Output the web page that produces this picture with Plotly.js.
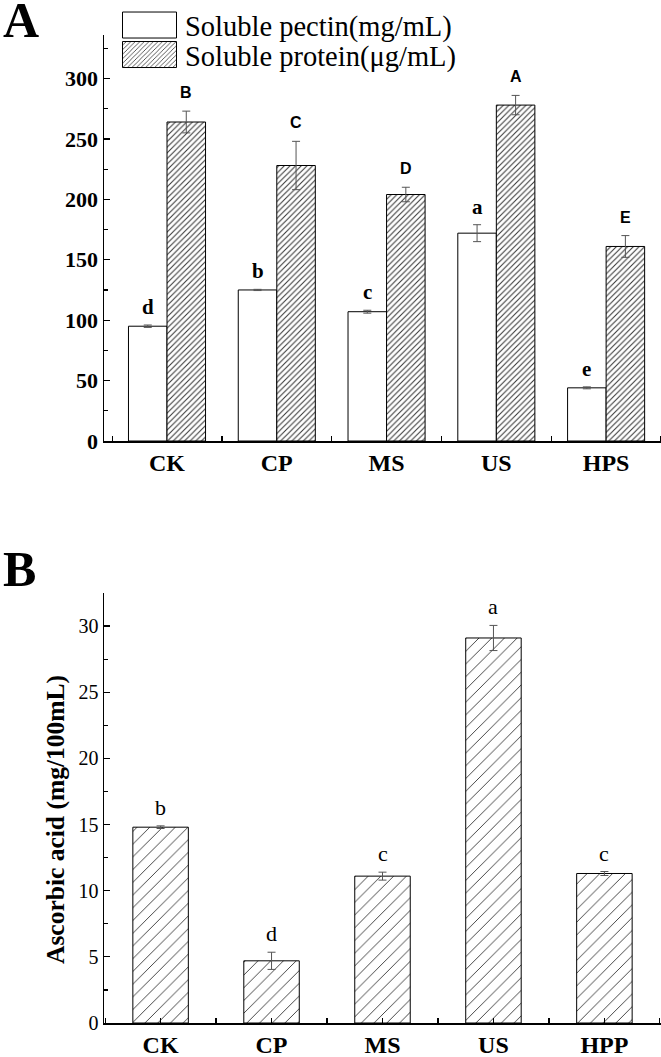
<!DOCTYPE html>
<html>
<head>
<meta charset="utf-8">
<script src="https://cdn.plot.ly/plotly-3.0.1.min.js"></script>
<style>html,body{margin:0;padding:0;background:#fff;}</style>
</head>
<body>
<div id="chart" style="width:661px;height:1057px;"></div>
<script>
// ---- Data (panel A) ----
var categoriesA = ['CK', 'CP', 'MS', 'US', 'HPS'];
var pectin = [95, 125, 107, 172, 44];
var pectinErr = [1, 0.5, 1.2, 7, 0.8];
var protein = [264, 228, 204, 278, 161];
var proteinErr = [9, 20, 6, 8, 9];
var lettersPectin = ['d', 'b', 'c', 'a', 'e'];
var lettersProtein = ['B', 'C', 'D', 'A', 'E'];
var seriesNames = ['Soluble pectin(mg/mL)', 'Soluble protein(\u03bcg/mL)'];

// ---- Data (panel B) ----
var categoriesB = ['CK', 'CP', 'MS', 'US', 'HPP'];
var ascorbic = [14.8, 4.7, 11.1, 29.1, 11.3];
var ascorbicErr = [0.1, 0.65, 0.3, 0.95, 0.15];
var lettersB = ['b', 'd', 'c', 'a', 'c'];
var yTitleB = 'Ascorbic acid (mg/100mL)';

var idxA = categoriesA.map(function (_, i) { return i; });
var idxB = categoriesB.map(function (_, i) { return i; });

var serif = 'Liberation Serif, Times New Roman, serif';
var narrow = 'Liberation Sans Narrow, Arial Narrow, Liberation Sans, sans-serif';

// layout geometry
var W = 661, H = 1057, ML = 104, MR = 0, MT = 30, MB = 34;
var PW = W - ML - MR, PH = H - MT - MB;
function px2x(px) { return (px - ML) / PW; }
function px2y(py) { return (H - MB - py) / PH; }

var errStyle = { type: 'data', visible: true, color: '#555', thickness: 1, width: 4 };

var traces = [
  {
    type: 'bar', name: seriesNames[0], x: idxA, y: pectin, legend: 'legend',
    width: 0.351, offset: -0.351, xaxis: 'x', yaxis: 'y',
    marker: { color: '#ffffff', line: { color: '#000', width: 1 } },
    error_y: Object.assign({ array: pectinErr }, errStyle)
  },
  {
    type: 'bar', name: seriesNames[1], x: idxA, y: protein, legend: 'legend2',
    width: 0.351, offset: 0, xaxis: 'x', yaxis: 'y',
    marker: {
      color: '#ffffff', line: { color: '#000', width: 1 },
      pattern: { shape: '/', size: 4, solidity: 0.25, fgcolor: '#333', bgcolor: '#ffffff', fgopacity: 1 }
    },
    error_y: Object.assign({ array: proteinErr }, errStyle)
  },
  {
    type: 'bar', name: 'Ascorbic acid', x: idxB, y: ascorbic, showlegend: false,
    width: 0.5, offset: -0.25, xaxis: 'x2', yaxis: 'y2',
    marker: {
      color: '#ffffff', line: { color: '#000', width: 1 },
      pattern: { shape: '/', size: 9, solidity: 0.1, fgcolor: '#333', bgcolor: '#ffffff', fgopacity: 1 }
    },
    error_y: Object.assign({ array: ascorbicErr }, errStyle)
  }
];

var annotations = [];
idxA.forEach(function (i) {
  annotations.push({
    x: i - 0.1755, y: pectin[i] + pectinErr[i], xref: 'x', yref: 'y',
    text: lettersPectin[i], showarrow: false, yanchor: 'bottom', yshift: 4,
    font: { family: serif, size: 21, weight: 'bold', color: '#000' }
  });
  annotations.push({
    x: i + 0.1755, y: protein[i] + proteinErr[i], xref: 'x', yref: 'y',
    text: lettersProtein[i], showarrow: false, yanchor: 'bottom', yshift: 8,
    font: { family: narrow, size: 16, weight: 'bold', color: '#000' }
  });
});
idxB.forEach(function (i) {
  annotations.push({
    x: i, y: ascorbic[i] + ascorbicErr[i], xref: 'x2', yref: 'y2',
    text: lettersB[i], showarrow: false, yanchor: 'bottom', yshift: 4,
    font: { family: serif, size: 22, color: '#000' }
  });
});
annotations.push({
  text: 'A', showarrow: false, xref: 'paper', yref: 'paper',
  x: px2x(21), y: px2y(20), xanchor: 'center', yanchor: 'middle',
  font: { family: serif, size: 50, weight: 'bold', color: '#000' }
});
annotations.push({
  text: 'B', showarrow: false, xref: 'paper', yref: 'paper',
  x: px2x(19), y: px2y(569), xanchor: 'center', yanchor: 'middle',
  font: { family: serif, size: 50, weight: 'bold', color: '#000' }
});
annotations.push({
  text: yTitleB, showarrow: false, xref: 'paper', yref: 'paper', textangle: -90,
  x: px2x(55), y: px2y(820), xanchor: 'center', yanchor: 'middle',
  font: { family: serif, size: 25.5, weight: 'bold', color: '#000' }
});

var axisCommon = {
  showline: true, linecolor: '#000', linewidth: 1.5, showgrid: false, zeroline: false,
  tickcolor: '#000', tickwidth: 1.2
};
var legendCommon = {
  xanchor: 'left', yanchor: 'middle', bgcolor: 'rgba(0,0,0,0)', borderwidth: 0,
  font: { family: serif, size: 28.5, color: '#000' }, itemwidth: 61
};

var layout = {
  width: W, height: H,
  margin: { l: ML, r: MR, t: MT, b: MB },
  paper_bgcolor: '#fff', plot_bgcolor: '#fff',
  barmode: 'overlay',
  showlegend: true,
  legend: Object.assign({ x: px2x(114), y: px2y(25) }, legendCommon),
  legend2: Object.assign({ x: px2x(114), y: px2y(55) }, legendCommon),
  xaxis: Object.assign({}, axisCommon, {
    domain: [0, 1], anchor: 'y', range: [-0.574, 4.5],
    tickmode: 'array', tickvals: idxA, ticktext: categoriesA, ticks: '',
    tickfont: { family: serif, size: 24, weight: 'bold', color: '#000' },
    minor: { tickmode: 'linear', tick0: -0.5, dtick: 1, ticks: 'inside', ticklen: 5, tickcolor: '#000', tickwidth: 1.2 }
  }),
  yaxis: Object.assign({}, axisCommon, {
    domain: [px2y(441), px2y(35)], anchor: 'x', range: [0, 336],
    tickmode: 'linear', tick0: 0, dtick: 50, ticks: 'inside', ticklen: 6,
    tickfont: { family: serif, size: 22, weight: 'bold', color: '#000' },
    minor: { tickmode: 'linear', tick0: 0, dtick: 25, ticks: 'inside', ticklen: 4, tickcolor: '#000', tickwidth: 1.2 }
  }),
  xaxis2: Object.assign({}, axisCommon, {
    domain: [0, 1], anchor: 'y2', range: [-0.51, 4.51],
    tickmode: 'array', tickvals: idxB, ticktext: categoriesB, ticks: 'inside', ticklen: 5,
    tickfont: { family: serif, size: 24, weight: 'bold', color: '#000' },
    minor: { tickmode: 'linear', tick0: -0.5, dtick: 1, ticks: 'inside', ticklen: 5, tickcolor: '#000', tickwidth: 1.2 }
  }),
  yaxis2: Object.assign({}, axisCommon, {
    domain: [0, px2y(593)], anchor: 'x2', range: [0, 32.5],
    tickmode: 'linear', tick0: 0, dtick: 5, ticks: 'inside', ticklen: 6,
    tickfont: { family: serif, size: 20, color: '#000' },
    minor: { tickmode: 'linear', tick0: 0, dtick: 2.5, ticks: 'inside', ticklen: 4, tickcolor: '#000', tickwidth: 1.2 }
  }),
  annotations: annotations
};

Plotly.newPlot('chart', traces, layout, { staticPlot: true }).then(function (gd) {
  // enlarge legend swatches to match the reference's wide boxes
  gd.querySelectorAll('.legendpoints path').forEach(function (p) {
    p.setAttribute('d', 'M27,13H-27V-13H27Z');
  });
});
</script>
</body>
</html>
